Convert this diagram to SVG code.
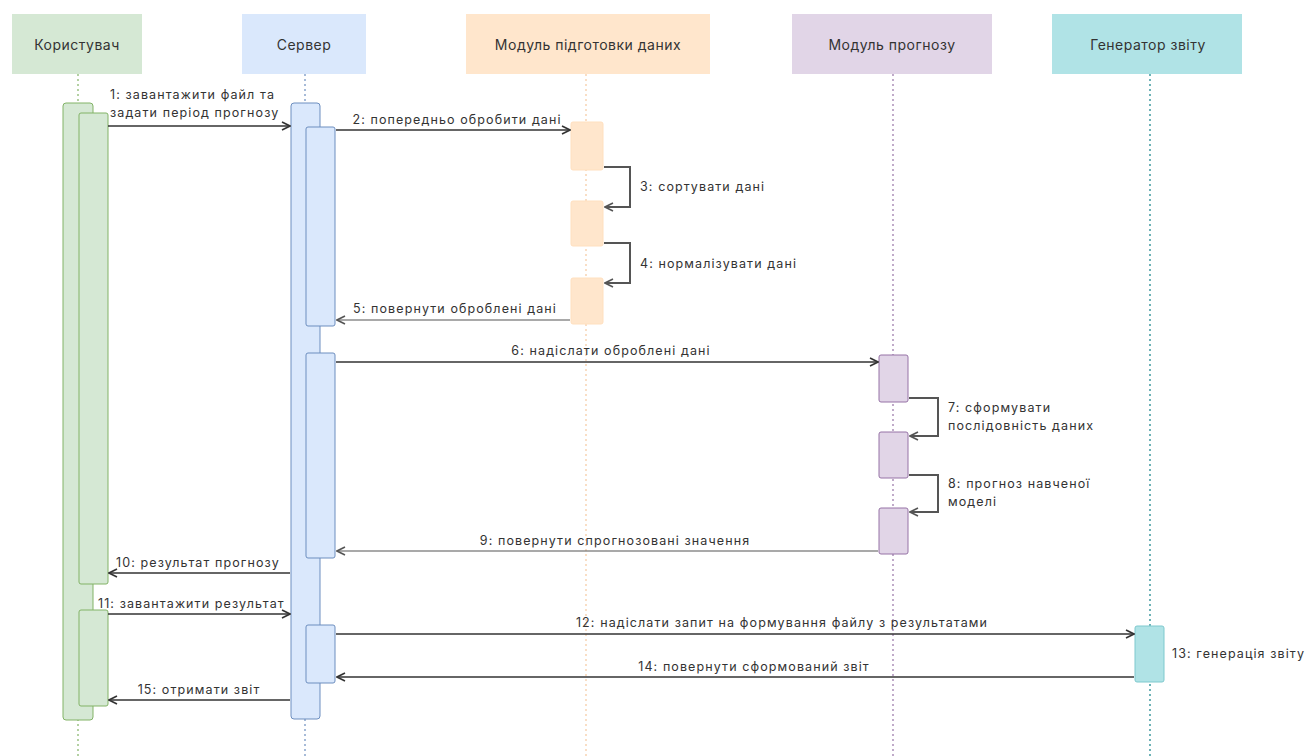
<svg xmlns="http://www.w3.org/2000/svg" width="1310" height="756" viewBox="0 0 1310 756">
  <defs>
    <marker id="open" viewBox="0 0 10 10" refX="9" refY="5" markerWidth="10" markerHeight="10" markerUnits="userSpaceOnUse" orient="auto">
      <path d="M1,1 L9,5 L1,9" fill="none" stroke="#333" stroke-width="1.6"/>
    </marker>
    <marker id="openGray" viewBox="0 0 10 10" refX="9" refY="5" markerWidth="10" markerHeight="10" markerUnits="userSpaceOnUse" orient="auto">
      <path d="M1,1 L9,5 L1,9" fill="none" stroke="#555" stroke-width="1.6"/>
    </marker>
  </defs>
  <style>
    text { font-family: Inter, "Noto Sans", "Liberation Sans", sans-serif; fill: #333; }
    .head { font-size: 14px; letter-spacing: 0.5px; text-anchor: middle; dominant-baseline: central; }
    .lbl { font-size: 12.5px; letter-spacing: 1.1px; }
    .mid { text-anchor: middle; }
    .life { fill: none; stroke-width: 1.2; stroke-dasharray: 2 3; }
    .msg { fill: none; stroke: #333; stroke-width: 1.5; marker-end: url(#open); }
    .ret { fill: none; stroke: #555; stroke-width: 1.2; marker-end: url(#openGray); }
    .self { fill: none; stroke: #555; stroke-width: 2; marker-end: url(#openGray); }
    .green { fill: #d5e8d4; stroke: #82b366; stroke-width: 1; }
    .blue { fill: #dae8fc; stroke: #6c8ebf; stroke-width: 1; }
    .orange { fill: #ffe6cc; stroke: #ffe0bf; stroke-width: 1; }
    .purple { fill: #e1d5e7; stroke: #9673a6; stroke-width: 1; }
    .teal { fill: #b0e3e6; stroke: #7fc9ce; stroke-width: 1; }
  </style>
  <rect width="1310" height="756" fill="#ffffff"/>

  <!-- Lifeline: user -->
  <g id="user">
    <rect x="12" y="14" width="130" height="60" fill="#d5e8d4"/>
    <text class="head" x="77" y="44">Користувач</text>
    <line class="life" x1="78" y1="74" x2="78" y2="756" stroke="#82b366"/>
    <rect class="green" x="63" y="103" width="30" height="617" rx="3"/>
    <rect class="green" x="79" y="113" width="29" height="471" rx="2"/>
    <rect class="green" x="79" y="610" width="29" height="96" rx="2"/>
  </g>

  <!-- Lifeline: server -->
  <g id="server">
    <rect x="242" y="14" width="124" height="60" fill="#dae8fc"/>
    <text class="head" x="304" y="44">Сервер</text>
    <line class="life" x1="305" y1="74" x2="305" y2="756" stroke="#6c8ebf"/>
    <rect class="blue" x="291" y="103" width="29" height="616" rx="3"/>
    <rect class="blue" x="306" y="127" width="29" height="199" rx="2"/>
    <rect class="blue" x="306" y="353" width="29" height="205" rx="2"/>
    <rect class="blue" x="306" y="625" width="29" height="58" rx="2"/>
  </g>

  <!-- Lifeline: data preparation module -->
  <g id="prep">
    <rect x="466" y="14" width="244" height="60" fill="#ffe6cc"/>
    <text class="head" x="588" y="44">Модуль підготовки даних</text>
    <line class="life" x1="586" y1="74" x2="586" y2="756" stroke="#f5c9a0"/>
    <rect class="orange" x="571" y="122" width="32" height="48" rx="2"/>
    <rect class="orange" x="571" y="201" width="32" height="45" rx="2"/>
    <rect class="orange" x="571" y="278" width="32" height="46" rx="2"/>
  </g>

  <!-- Lifeline: forecast module -->
  <g id="forecast">
    <rect x="792" y="14" width="200" height="60" fill="#e1d5e7"/>
    <text class="head" x="892" y="44">Модуль прогнозу</text>
    <line class="life" x1="893" y1="74" x2="893" y2="756" stroke="#9673a6"/>
    <rect class="purple" x="879" y="355" width="29" height="47" rx="2"/>
    <rect class="purple" x="879" y="432" width="29" height="46" rx="2"/>
    <rect class="purple" x="879" y="508" width="29" height="46" rx="2"/>
  </g>

  <!-- Lifeline: report generator -->
  <g id="generator">
    <rect x="1052" y="14" width="190" height="60" fill="#b0e3e6"/>
    <text class="head" x="1148" y="44">Генератор звіту</text>
    <line class="life" x1="1150" y1="74" x2="1150" y2="756" stroke="#0e8088"/>
    <rect class="teal" x="1135" y="626" width="29" height="56" rx="2"/>
  </g>

  <!-- Messages -->
  <g id="connectors">
    <line class="msg" x1="108" y1="126" x2="290" y2="126"/>
    <line class="msg" x1="336" y1="130" x2="570" y2="130"/>
    <polyline class="self" points="604,167 630,167 630,207 605,207"/>
    <polyline class="self" points="604,243 630,243 630,283 605,283"/>
    <line class="ret" x1="570" y1="320" x2="337" y2="320"/>
    <line class="msg" x1="336" y1="362" x2="878" y2="362"/>
    <polyline class="self" points="909,398 938,398 938,436 910,436"/>
    <polyline class="self" points="909,475 938,475 938,512 910,512"/>
    <line class="ret" x1="878" y1="551" x2="337" y2="551"/>
    <line class="msg" x1="290" y1="573" x2="109" y2="573"/>
    <line class="msg" x1="108" y1="614" x2="290" y2="614"/>
    <line class="msg" x1="336" y1="634" x2="1134" y2="634"/>
    <line class="msg" x1="1134" y1="677" x2="337" y2="677"/>
    <line class="msg" x1="290" y1="700" x2="109" y2="700"/>
  </g>

  <!-- Message labels -->
  <g id="labels">
    <text class="lbl" x="110" y="99">1: завантажити файл та</text>
    <text class="lbl" x="110" y="117">задати період прогнозу</text>
    <text class="lbl mid" x="457" y="124">2: попередньо обробити дані</text>
    <text class="lbl" x="640" y="191">3: сортувати дані</text>
    <text class="lbl" x="640" y="268">4: нормалізувати дані</text>
    <text class="lbl mid" x="455" y="313">5: повернути оброблені дані</text>
    <text class="lbl mid" x="611" y="355">6: надіслати оброблені дані</text>
    <text class="lbl" x="948" y="412">7: сформувати</text>
    <text class="lbl" x="948" y="430">послідовність даних</text>
    <text class="lbl" x="948" y="488">8: прогноз навченої</text>
    <text class="lbl" x="948" y="506">моделі</text>
    <text class="lbl mid" x="615" y="545">9: повернути спрогнозовані значення</text>
    <text class="lbl" x="116" y="567">10: результат прогнозу</text>
    <text class="lbl" x="98" y="608">11: завантажити результат</text>
    <text class="lbl mid" x="782" y="627">12: надіслати запит на формування файлу з результатами</text>
    <text class="lbl" x="1172" y="658">13: генерація звіту</text>
    <text class="lbl mid" x="754" y="671">14: повернути сформований звіт</text>
    <text class="lbl mid" x="199" y="694">15: отримати звіт</text>
  </g>
</svg>
